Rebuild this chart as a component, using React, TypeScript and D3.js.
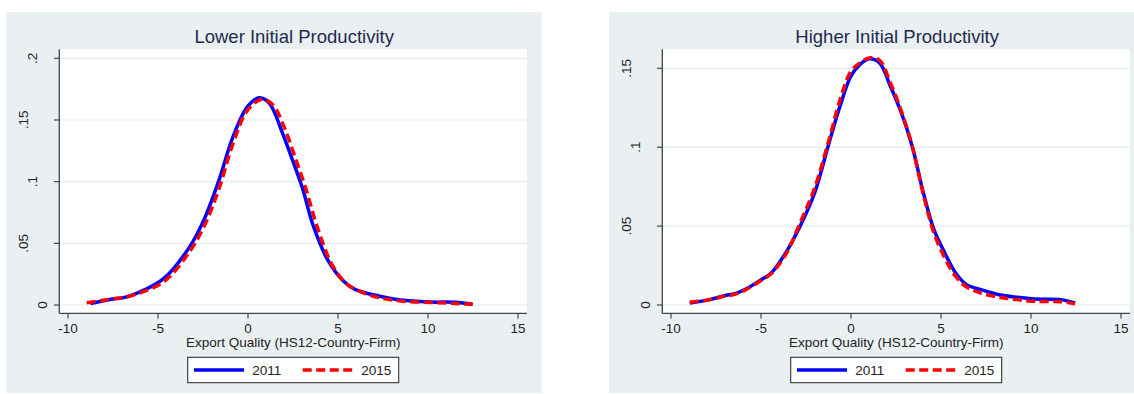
import * as d3 from "d3"

// Left panel: lower initial productivity
const lowX2011 = [-8.76, -7.54, -6.9, -6.09, -4.67, -3.26, -2.45, -1.64, -0.83, -0.02, 0.63, 1.19, 1.9, 2.41, 3.02, 3.62, 4.43, 5.24, 5.94, 7.26, 8.48, 10.1, 11.5, 12.48]
const lowY2011 = [0.0012, 0.0049, 0.006, 0.01, 0.0216, 0.0467, 0.069, 0.1, 0.1365, 0.161, 0.168, 0.1635, 0.14, 0.12, 0.095, 0.0645, 0.0365, 0.0203, 0.0127, 0.0073, 0.004, 0.0024, 0.0022, 0.0005]
const lowX2015 = [-8.96, -7.54, -6.7, -4.67, -3.26, -2.45, -1.64, -0.83, -0.02, 0.79, 1.4, 2.0, 2.61, 3.22, 3.82, 4.63, 5.44, 6.25, 7.26, 8.48, 10.5, 12.48]
const lowY2015 = [0.0019, 0.0049, 0.0067, 0.019, 0.043, 0.0635, 0.093, 0.131, 0.158, 0.1668, 0.162, 0.1445, 0.12, 0.094, 0.0645, 0.0338, 0.0176, 0.0108, 0.006, 0.0032, 0.0019, 0.0006]

// Right panel: higher initial productivity
const highX = [-8.96, -7.85, -7.05, -6.44, -5.84, -4.93, -4.43, -3.63, -2.83, -2.02, -1.22, -0.61, -0.01, 0.49, 1.0, 1.59, 2.19, 2.8, 3.4, 4.0, 4.61, 5.21, 5.81, 6.42, 7.22, 8.23, 9.23, 10.24, 11.65, 12.45]
const highY2011 = [0.0013, 0.0034, 0.0059, 0.0072, 0.0101, 0.0165, 0.0203, 0.033, 0.0499, 0.071, 0.1027, 0.126, 0.145, 0.1523, 0.156, 0.1534, 0.1386, 0.1217, 0.1006, 0.072, 0.0477, 0.033, 0.0203, 0.0129, 0.0097, 0.0065, 0.0049, 0.0038, 0.0034, 0.0013]
const highY2015 = [0.0017, 0.0034, 0.0055, 0.0068, 0.0097, 0.016, 0.0199, 0.0319, 0.052, 0.0742, 0.1048, 0.13, 0.148, 0.1534, 0.1566, 0.155, 0.1407, 0.1228, 0.1006, 0.071, 0.0456, 0.0298, 0.0182, 0.0114, 0.0076, 0.0049, 0.0034, 0.0023, 0.0021, 0.0008]

const xTicks = [-10, -5, 0, 5, 10, 15]
const lowYTicks = [0, 0.05, 0.1, 0.15, 0.2]
const highYTicks = [0, 0.05, 0.1, 0.15]
const seriesNames = ["2011", "2015"]

const FONT = "'Liberation Sans', Arial, sans-serif"
const BG = "#eaf0f2"
const GRID = "#e3ebee"

const fmtY = (v: number) => (v === 0 ? "0" : String(v).replace(/^0/, ""))

type PanelProps = {
  dx: number
  title: string
  yMax: number
  yMaxPx: number
  yTicks: number[]
  s2011: [number, number][]
  s2015: [number, number][]
}

function Panel({ dx, title, yMax, yMaxPx, yTicks, s2011, s2015 }: PanelProps) {
  const left = 59.3 + dx
  const right = 527 + dx
  const top = 49.3
  const bottom = 313.3

  const x = d3.scaleLinear().domain([-10, 15]).range([68 + dx, 518 + dx])
  const y = d3.scaleLinear().domain([0, yMax]).range([305, yMaxPx])

  const line = d3
    .line<[number, number]>()
    .x((d) => x(d[0]))
    .y((d) => y(d[1]))
    .curve(d3.curveCatmullRom.alpha(0.5))

  const cx = (left + right) / 2
  const lx = 187.7 + dx

  return (
    <g fontFamily={FONT}>
      <rect x={6 + dx} y={12} width={535.7} height={381} fill={BG} />
      <rect x={left} y={top} width={right - left} height={bottom - top} fill="#fff" />
      <text x={cx + 1} y={43.3} textAnchor="middle" fontSize={18.5} fill="#1f2a4e">
        {title}
      </text>

      {yTicks.map((t) => (
        <line key={"g" + t} x1={left} x2={right} y1={y(t)} y2={y(t)} stroke={GRID} strokeWidth={1.2} />
      ))}

      <path d={line(s2011) ?? ""} fill="none" stroke="#0000ff" strokeWidth={3.5} strokeLinejoin="round" />
      <path d={line(s2015) ?? ""} fill="none" stroke="#ff0000" strokeWidth={3.5} strokeDasharray="9 4.5" />

      {/* axes */}
      <line x1={left} x2={left} y1={top} y2={bottom} stroke="#444" strokeWidth={1.3} />
      <line x1={left} x2={right} y1={bottom} y2={bottom} stroke="#444" strokeWidth={1.3} />
      {yTicks.map((t) => {
        const lab = fmtY(t)
        const tx = left - 17.5 - 9.5 * (lab.length - 1)
        return (
          <g key={"y" + t}>
            <line x1={left - 5.3} x2={left} y1={y(t)} y2={y(t)} stroke="#444" strokeWidth={1.2} />
            <text
              x={tx}
              y={y(t)}
              dy="0.36em"
              textAnchor="middle"
              fontSize={13.5}
              fill="#222"
              transform={`rotate(-90, ${tx}, ${y(t)})`}
            >
              {lab}
            </text>
          </g>
        )
      })}
      {xTicks.map((t) => (
        <g key={"x" + t}>
          <line x1={x(t)} x2={x(t)} y1={bottom} y2={bottom + 5.2} stroke="#444" strokeWidth={1.2} />
          <text x={x(t)} y={333.3} textAnchor="middle" fontSize={13.5} fill="#222">
            {t}
          </text>
        </g>
      ))}
      <text x={cx} y={346.7} textAnchor="middle" fontSize={13.5} fill="#222">
        Export Quality (HS12-Country-Firm)
      </text>

      {/* legend */}
      <rect x={lx} y={357.3} width={211} height={25.4} fill="#fff" stroke="#333" strokeWidth={1.1} />
      <line x1={lx + 6.3} x2={lx + 56.3} y1={370} y2={370} stroke="#0000ff" strokeWidth={3.5} />
      <text x={lx + 64.6} y={374.8} fontSize={13.5} fill="#222">
        {seriesNames[0]}
      </text>
      <line x1={lx + 115} x2={lx + 165.6} y1={370} y2={370} stroke="#ff0000" strokeWidth={3.5} strokeDasharray="9 4.5" />
      <text x={lx + 173.6} y={374.8} fontSize={13.5} fill="#222">
        {seriesNames[1]}
      </text>
    </g>
  )
}

const zip = (xs: number[], ys: number[]) => xs.map((v, i) => [v, ys[i]] as [number, number])

export default function App() {
  return (
    <div style={{ position: "absolute", left: 0, top: 0 }}>
      <svg width={1134} height={394} style={{ display: "block", background: "#fff" }}>
        <Panel
          dx={0}
          title="Lower Initial Productivity"
          yMax={0.2}
          yMaxPx={58.3}
          yTicks={lowYTicks}
          s2011={zip(lowX2011, lowY2011)}
          s2015={zip(lowX2015, lowY2015)}
        />
        <Panel
          dx={603}
          title="Higher Initial Productivity"
          yMax={0.15}
          yMaxPx={68.3}
          yTicks={highYTicks}
          s2011={zip(highX, highY2011)}
          s2015={zip(highX, highY2015)}
        />
      </svg>
    </div>
  )
}
